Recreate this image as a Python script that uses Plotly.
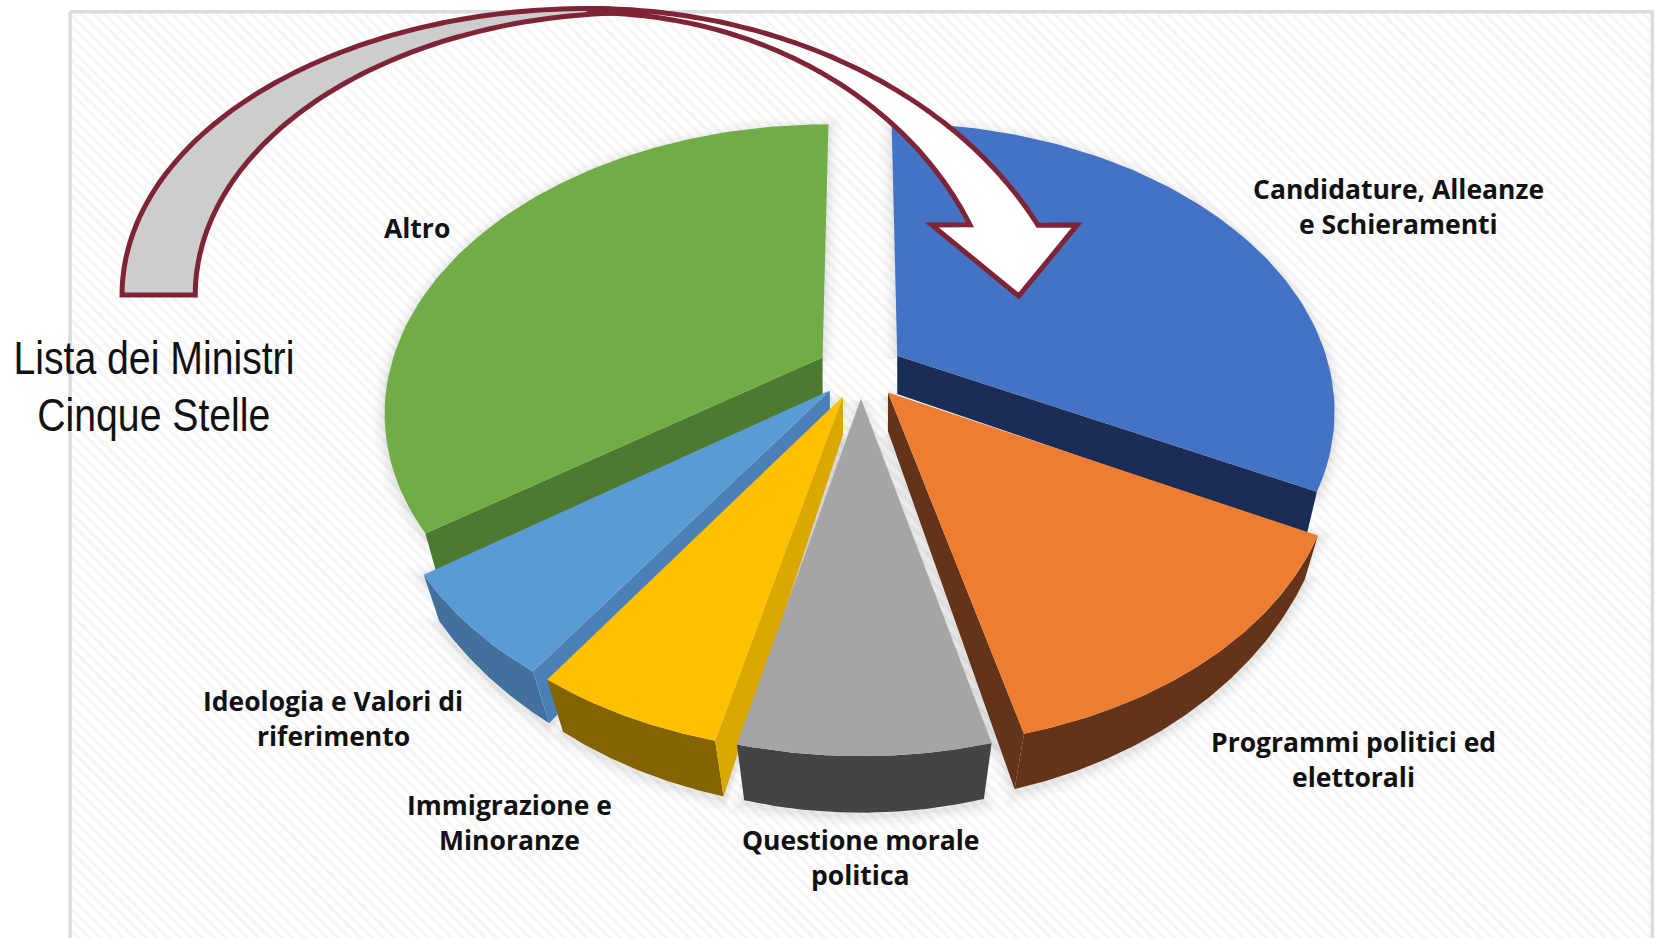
import numpy as np
import plotly.graph_objects as go

# ---------- data ----------
categories = ["Candidature, Alleanze e Schieramenti", "Programmi politici ed elettorali",
              "Questione morale politica", "Immigrazione e Minoranze",
              "Ideologia e Valori di riferimento", "Altro"]
shares = [32.5, 13.6, 7.6, 5.8, 5.8, 34.7]
pull = [0.10, 0.10, 0.10, 0.10, 0.10, 0.10]

top_colors = ["#4472c4", "#ed7d31", "#a5a5a5", "#ffc000", "#5b9bd5", "#70ad47"]
rim_colors = [None, "#63341a", "#444444", "#846400", "#41719c", None]
face_colors = ["#1a2d55", "#63341a", None, "#dba800", "#4a80b5", "#4b7a30"]
face_edge = ["end", "end", None, "start", "start", "start"]
paint_order = [0, 5, 4, 3, 1, 2]

label_lines = [["Candidature, Alleanze", "e Schieramenti"], ["Programmi politici ed", "elettorali"],
               ["Questione morale", "politica"], ["Immigrazione e", "Minoranze"],
               ["Ideologia e Valori di", "riferimento"], ["Altro"]]
label_x = [1318, 1275, 811, 480, 314, 393]
label_y = [178, 699, 792, 759, 661, 215]
side_title = ["Lista dei Ministri", "Cinque Stelle"]
side_title_px = [281, 233]

# ---------- projection of the pie's plane onto the page ----------
CX, CY, A, B, K = 811.0, 349.0, 408.0, 264.0, 0.183


def top_xy(X, Y):
    den = 1 + K * Y
    return CX + A * X / den, CY - B * Y / den


def bottom_xy(X, Y):
    x, y = top_xy(X, Y)
    below = np.maximum(-Y, 0)
    shrink = 0.055 * below
    return CX + (x - CX) * (1 - shrink), y + 36 + 15 * below ** 1.5


fig = go.Figure()

# patterned backdrop
fig.add_trace(go.Scatter(x=[66, 1557, 1557, 66, 66], y=[11, 11, 900, 900, 11], mode="lines",
                         fill="toself", line=dict(color="#dcdcdc", width=3.5),
                         fillcolor="#ffffff",
                         fillpattern=dict(shape="\\", fgcolor="#eeeeee", bgcolor="#ffffff", size=8, solidity=0.45),
                         hoverinfo="skip", showlegend=False))

# slice geometry from the shares
edges = 90 - np.cumsum([0] + shares) / sum(shares) * 360
geoms = []
for i in range(len(shares)):
    start, end = edges[i], edges[i + 1]
    mid = np.radians((start + end) / 2)
    ox, oy = pull[i] * np.cos(mid), pull[i] * np.sin(mid)
    t = np.radians(np.linspace(start, end, 90))
    geoms.append((ox, oy, ox + np.cos(t), oy + np.sin(t)))

# soft shadow
for width, alpha in [(26, 0.012), (18, 0.018), (11, 0.022), (5, 0.03)]:
    for i in paint_order:
        ox, oy, X, Y = geoms[i]
        xt, yt = top_xy(np.r_[ox, X, ox], np.r_[oy, Y, oy])
        xb, yb = bottom_xy(np.r_[ox, X, ox], np.r_[oy, Y, oy])
        if rim_colors[i]:
            fig.add_trace(go.Scatter(x=xb, y=yb + 3, mode="lines",
                                     line=dict(color=f"rgba(0,0,0,{alpha})", width=width),
                                     hoverinfo="skip", showlegend=False))
        fig.add_trace(go.Scatter(x=xt, y=yt + 3, mode="lines",
                                 line=dict(color=f"rgba(0,0,0,{alpha})", width=width),
                                 hoverinfo="skip", showlegend=False))

# slices, far to near
for i in paint_order:
    ox, oy, X, Y = geoms[i]
    xt, yt = top_xy(X, Y)
    xb, yb = bottom_xy(X, Y)
    if rim_colors[i]:
        fig.add_trace(go.Scatter(x=np.r_[xt, xb[::-1], xt[0]], y=np.r_[yt, yb[::-1], yt[0]],
                                 mode="lines", fill="toself", fillcolor=rim_colors[i],
                                 line=dict(width=0, color=rim_colors[i]),
                                 hoverinfo="skip", showlegend=False))
    if face_edge[i]:
        j = 0 if face_edge[i] == "start" else -1
        ax_t, ay_t = top_xy(np.array([ox]), np.array([oy]))
        ax_b, ay_b = bottom_xy(np.array([ox]), np.array([oy]))
        fig.add_trace(go.Scatter(x=[ax_t[0], xt[j], xb[j], ax_b[0], ax_t[0]],
                                 y=[ay_t[0], yt[j], yb[j], ay_b[0], ay_t[0]],
                                 mode="lines", fill="toself", fillcolor=face_colors[i],
                                 line=dict(width=0, color=face_colors[i]),
                                 hoverinfo="skip", showlegend=False))
    ax_t, ay_t = top_xy(np.array([ox]), np.array([oy]))
    fig.add_trace(go.Scatter(x=np.r_[ax_t, xt, ax_t], y=np.r_[ay_t, yt, ay_t],
                             mode="lines", fill="toself", fillcolor=top_colors[i],
                             line=dict(width=0, color=top_colors[i]),
                             name=categories[i], text=f"{shares[i]}%", hoverinfo="name+text",
                             showlegend=False))


# ---------- curved arrow overlay ----------
def arc(cx, cy, rx, ry, x_from, x_to, n=80):
    a0 = np.arccos(np.clip((x_from - cx) / rx, -1, 1))
    a1 = np.arccos(np.clip((x_to - cx) / rx, -1, 1))
    a = np.linspace(a0, a1, n)
    return cx + rx * np.cos(a), cy - ry * np.sin(a)


def path(xs, ys):
    return "M " + " L ".join(f"{a:.1f},{b:.1f}" for a, b in zip(xs, ys)) + " Z"


ox1, oy1 = arc(555, 278, 440, 270, 115, 555)
ix1, iy1 = arc(600, 278, 416, 266, 184, 600)
grey_x = np.r_[ox1, ix1[::-1]]
grey_y = np.r_[oy1, iy1[::-1]]

ox2, oy2 = arc(555, 370, 470, 362, 555, 978)
ix2, iy2 = arc(555, 340, 390, 328, 555, 914)
white_x = np.r_[ox2, 1015, 960, 878, ix2[::-1]]
white_y = np.r_[oy2, 212, 279, 212, iy2[::-1]]

MAROON = "#7f2437"
shapes = [
    dict(type="path", path=path(grey_x, grey_y), xref="x", yref="y", fillcolor="#cdcdcd",
         line=dict(color=MAROON, width=5)),
    dict(type="path", path=path(white_x, white_y), xref="x", yref="y", fillcolor="#ffffff",
         line=dict(color=MAROON, width=5)),
]

# ---------- text ----------
annotations = []
LINE_STEP = 33
for lines, lx, ly in zip(label_lines, label_x, label_y):
    for n, line in enumerate(lines):
        annotations.append(dict(x=lx, y=ly + n * LINE_STEP, xref="x", yref="y", text=f"<b>{line}</b>",
                                showarrow=False, xanchor="center", yanchor="middle",
                                font=dict(family="Open Sans", size=26.5, color="#111111")))
for n, line in enumerate(side_title):
    annotations.append(dict(x=145, y=337 + n * 54, xref="x", yref="y", text=line, showarrow=False,
                            xanchor="center", yanchor="middle",
                            font=dict(family="Liberation Sans", size=46, color="#111111")))

fig.update_layout(width=1664, height=938, margin=dict(l=0, r=0, t=0, b=0), autosize=False,
                  paper_bgcolor="#ffffff", plot_bgcolor="#ffffff", showlegend=False,
                  shapes=shapes, annotations=annotations,
                  xaxis=dict(range=[0, 1568], visible=False, fixedrange=True),
                  yaxis=dict(range=[884, 0], visible=False, fixedrange=True))

# the condensed face of the side title is not installed, so its glyphs are narrowed in place
squeeze = {t: w for t, w in zip(side_title, side_title_px)}
post = """
document.body.style.margin='0';
var squeeze = %s;
function narrow(){
  document.querySelectorAll('.annotation-text').forEach(function(t){
    var w = squeeze[t.textContent];
    if (w) { t.setAttribute('textLength', w); t.setAttribute('lengthAdjust', 'spacingAndGlyphs'); }
  });
}
narrow(); setTimeout(narrow, 100); setTimeout(narrow, 500);
""" % str(squeeze)

fig.write_html("out.html", post_script=post, config={"displayModeBar": False})
